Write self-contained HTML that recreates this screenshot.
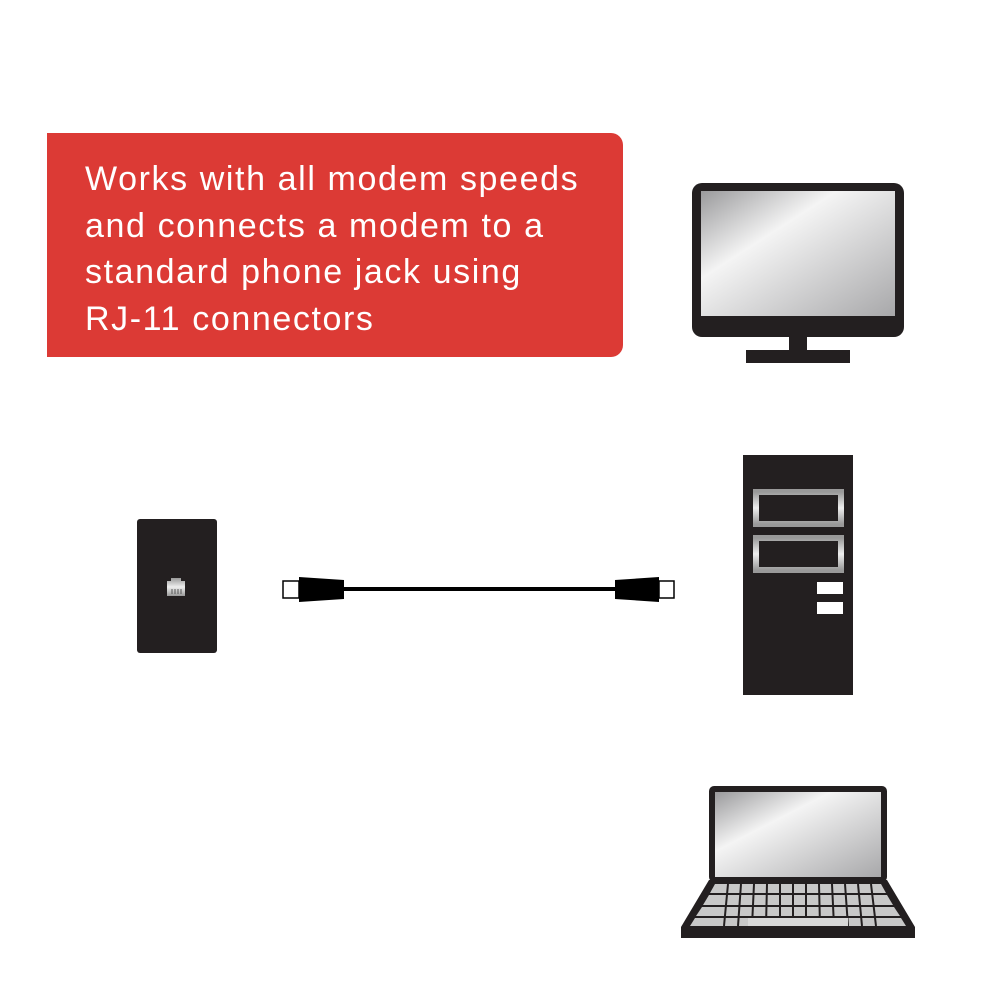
<!DOCTYPE html>
<html><head><style>
body{margin:0;width:1000px;height:1000px;background:#fff;position:relative;overflow:hidden;font-family:"Liberation Sans",sans-serif}
.red{position:absolute;left:47px;top:133px;width:576px;height:224px;background:#dc3a35;border-radius:0 12px 12px 0}
.txt{position:absolute;left:85px;top:156px;color:#fff;font-size:34px;line-height:46.5px;letter-spacing:1.6px}
</style></head><body>
<div class="red"></div>
<div class="txt">Works with all modem speeds<br>and connects a modem to a<br>standard phone jack using<br>RJ-11 connectors</div>
<svg width="1000" height="1000" style="position:absolute;left:0;top:0">
<defs>
<linearGradient id="g" x1="0" y1="0" x2="1" y2="1">
<stop offset="0" stop-color="#9a9a9c"/><stop offset="0.35" stop-color="#f4f4f4"/><stop offset="1" stop-color="#a8a8aa"/></linearGradient>
<linearGradient id="g2" x1="0" y1="0" x2="0" y2="1">
<stop offset="0" stop-color="#999"/><stop offset="0.5" stop-color="#eee"/><stop offset="1" stop-color="#999"/></linearGradient>
</defs>
<rect x="692" y="183" width="212" height="154" rx="10" fill="#231f20"/>
<rect x="701" y="191" width="194" height="125" fill="url(#g)"/>
<rect x="789" y="336" width="18" height="15" fill="#231f20"/>
<rect x="746" y="350" width="104" height="13" fill="#231f20"/>
<rect x="137" y="519" width="80" height="134" rx="3" fill="#231f20"/>
<path d="M167 581h4v-3h10v3h4v15h-18z" fill="url(#g2)"/>
<path d="M172 589v5M175 589v5M178 589v5M181 589v5" stroke="#555" stroke-width="1"/>
<rect x="283" y="581" width="16" height="17" fill="#fff" stroke="#000" stroke-width="1.5"/>
<polygon points="299,577 344,580 344,599 299,602" fill="#000"/>
<rect x="344" y="587" width="272" height="4" fill="#000"/>
<polygon points="615,580 659,577 659,602 615,599" fill="#000"/>
<rect x="659" y="581" width="15" height="17" fill="#fff" stroke="#000" stroke-width="1.5"/>
<rect x="743" y="455" width="110" height="240" fill="#231f20"/>
<rect x="756" y="492" width="85" height="32" fill="none" stroke="url(#g2)" stroke-width="6"/>
<rect x="756" y="538" width="85" height="32" fill="none" stroke="url(#g2)" stroke-width="6"/>
<rect x="817" y="582" width="26" height="12" fill="#fff"/>
<rect x="817" y="602" width="26" height="12" fill="#fff"/>
<rect x="709" y="786" width="178" height="96" rx="5" fill="#231f20"/>
<rect x="715" y="792" width="166" height="85" fill="url(#g)"/>
<polygon points="709,880 887,880 915,927 915,938 681,938 681,927" fill="#231f20"/>
<g fill="#c8c8c8">
<polygon points="715,884 881,884 886,893 710,893"/>
<polygon points="709,895 887,895 893,905 703,905"/>
<polygon points="702,907 894,907 900,916 696,916"/>
<polygon points="695,918 901,918 906,926 690,926"/>
</g>
<g stroke="#231f20" stroke-width="2">
<path d="M728 884l-4 42M741 884l-3 42M754 884l-2 42M767 884l-1 42M780 884v42M793 884v42M806 884v42M819 884l1 42M832 884l2 42M845 884l3 42M858 884l4 42M871 884l5 42"/>
</g>
<rect x="748" y="918" width="100" height="8" fill="#d8d8d8"/>
</svg>
</body></html>
